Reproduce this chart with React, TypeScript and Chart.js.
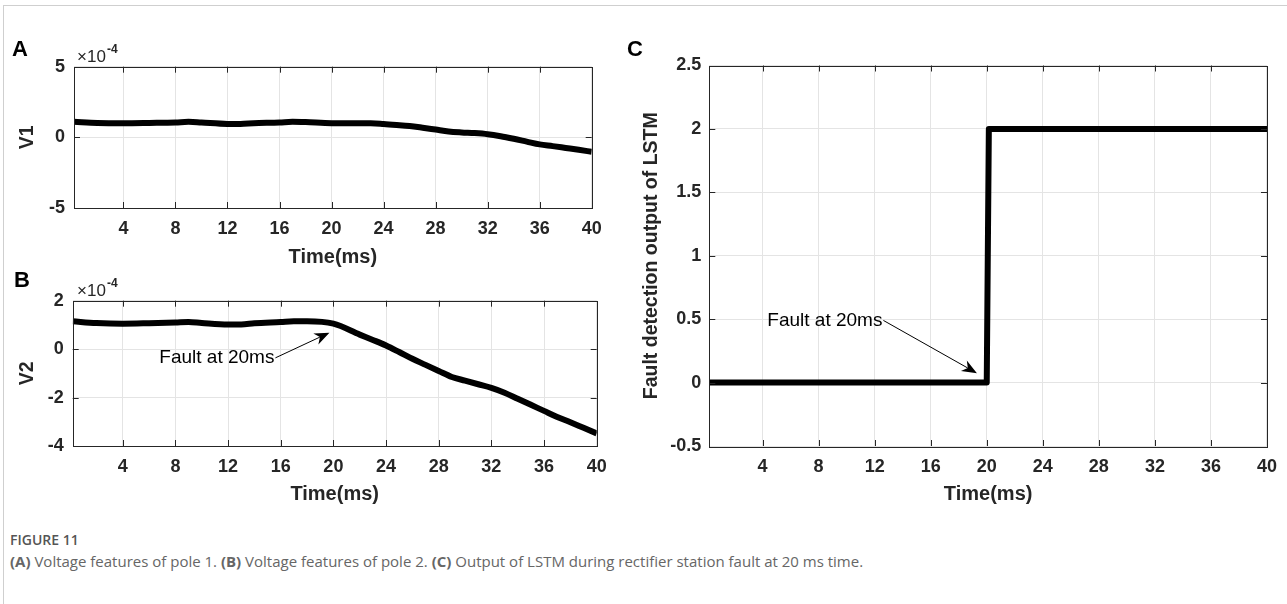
import React, { useEffect, useRef } from 'react';
import { Chart, registerables } from 'chart.js';

Chart.register(...registerables);

// ---------- data ----------
const timeMs = [0.2, 2, 4, 6, 8, 9, 10, 12, 13, 14, 16, 17, 18, 20, 22, 23, 24, 25, 26, 27, 28, 29, 30, 31, 32, 33, 34, 35, 36, 37, 38, 39, 40];
// V1 and V2 in units of 1e-4
const v1 = [1.1, 1.02, 1.0, 1.02, 1.05, 1.1, 1.05, 0.95, 0.95, 1.0, 1.05, 1.1, 1.08, 1.0, 1.0, 1.0, 0.95, 0.88, 0.8, 0.68, 0.55, 0.42, 0.35, 0.3, 0.22, 0.08, -0.1, -0.3, -0.5, -0.62, -0.75, -0.88, -1.02];
const v2 = [1.15, 1.08, 1.05, 1.07, 1.1, 1.12, 1.08, 1.02, 1.02, 1.07, 1.12, 1.15, 1.15, 1.05, 0.6, 0.38, 0.15, -0.12, -0.4, -0.65, -0.9, -1.15, -1.3, -1.45, -1.6, -1.8, -2.05, -2.3, -2.55, -2.8, -3.02, -3.25, -3.48];
const timeC = [0.2, 20, 20.15, 40];
const lstmOutput = [0, 0, 2, 2];

const xTicks = [4, 8, 12, 16, 20, 24, 28, 32, 36, 40];
const v1Ticks = [-5, 0, 5];
const v2Ticks = [-4, -2, 0, 2];
const cTicks = [-0.5, 0, 0.5, 1, 1.5, 2, 2.5];

const faultText = 'Fault at 20ms';
// annotation anchors (data units)
const noteB = { textX: 6.78, textY: -0.36, tipX: 19.7, tipY: 0.68 };
const noteC = { textX: 4.34, textY: 0.49, tipX: 19.3, tipY: 0.074 };

const FONT = '"Liberation Sans", Arial, Helvetica, sans-serif';
const DARK = '#262626';

// ---------- plugins ----------
const boxPlugin = {
  id: 'matlabBox',
  afterDatasetsDraw(chart: any) {
    const { ctx, chartArea: a } = chart;
    const xs = chart.scales.x;
    const ys = chart.scales.y;
    ctx.save();
    ctx.strokeStyle = DARK;
    ctx.lineWidth = 1;
    const tl = 6;
    ctx.beginPath();
    xs.ticks.forEach((t: any) => {
      const px = Math.round(xs.getPixelForValue(t.value)) + 0.5;
      if (px < a.left + 1 || px > a.right - 1) return;
      ctx.moveTo(px, a.bottom);
      ctx.lineTo(px, a.bottom - tl);
      ctx.moveTo(px, a.top);
      ctx.lineTo(px, a.top + tl);
    });
    ys.ticks.forEach((t: any) => {
      const py = Math.round(ys.getPixelForValue(t.value)) + 0.5;
      if (py < a.top + 1 || py > a.bottom - 1) return;
      ctx.moveTo(a.left, py);
      ctx.lineTo(a.left + tl, py);
      ctx.moveTo(a.right, py);
      ctx.lineTo(a.right - tl, py);
    });
    ctx.stroke();
    ctx.strokeRect(Math.round(a.left) + 0.5, Math.round(a.top) + 0.5, Math.round(a.right - a.left), Math.round(a.bottom - a.top));
    ctx.restore();
  },
};

const notePlugin = {
  id: 'faultNote',
  afterDatasetsDraw(chart: any, _args: any, opts: any) {
    if (!opts || opts.textX === undefined) return;
    const { ctx } = chart;
    const xs = chart.scales.x;
    const ys = chart.scales.y;
    const tx = xs.getPixelForValue(opts.textX);
    const ty = ys.getPixelForValue(opts.textY);
    ctx.save();
    ctx.font = `19px ${FONT}`;
    ctx.fillStyle = '#000';
    ctx.textAlign = 'left';
    ctx.textBaseline = 'middle';
    ctx.fillText(opts.text, tx, ty);
    const w = ctx.measureText(opts.text).width;
    const sx = tx + w + 1;
    const sy = ty;
    const ex = xs.getPixelForValue(opts.tipX);
    const ey = ys.getPixelForValue(opts.tipY);
    const ang = Math.atan2(ey - sy, ex - sx);
    const c = Math.cos(ang);
    const s = Math.sin(ang);
    const hl = 15;
    const hw = 6;
    ctx.strokeStyle = '#000';
    ctx.lineWidth = 1;
    ctx.beginPath();
    ctx.moveTo(sx, sy);
    ctx.lineTo(ex - c * hl * 0.7, ey - s * hl * 0.7);
    ctx.stroke();
    ctx.beginPath();
    ctx.moveTo(ex, ey);
    ctx.lineTo(ex - hl * c + hw * s, ey - hl * s - hw * c);
    ctx.lineTo(ex - 0.7 * hl * c, ey - 0.7 * hl * s);
    ctx.lineTo(ex - hl * c - hw * s, ey - hl * s + hw * c);
    ctx.closePath();
    ctx.fillStyle = '#000';
    ctx.fill();
    ctx.restore();
  },
};

type PanelSpec = {
  xs: number[];
  ys: number[];
  yTicks: number[];
  yMin: number;
  yMax: number;
  yTitle: string;
  width: number;
  height: number;
  padTop: number;
  padRight: number;
  yWidth: number;
  xHeight: number;
  xTitlePad: number;
  yTitlePad: number;
  yTickPad: number;
  smooth: boolean;
  note?: any;
};

function makeConfig(p: PanelSpec): any {
  return {
    type: 'line',
    data: {
      datasets: [
        {
          data: p.xs.map((x, i) => ({ x, y: p.ys[i] })),
          borderColor: '#000',
          backgroundColor: '#000',
          borderWidth: 6,
          pointRadius: 0,
          fill: false,
          clip: 0,
          borderJoinStyle: 'round',
          cubicInterpolationMode: p.smooth ? 'monotone' : 'default',
          tension: 0,
        },
      ],
    },
    options: {
      animation: false,
      responsive: false,
      maintainAspectRatio: false,
      events: [],
      layout: { padding: { top: p.padTop, right: p.padRight, left: 0, bottom: 0 } },
      plugins: {
        legend: { display: false },
        tooltip: { enabled: false },
        faultNote: p.note ? { ...p.note, text: faultText } : {},
      },
      scales: {
        x: {
          type: 'linear',
          min: 0.2,
          max: 40,
          afterBuildTicks: (s: any) => {
            s.ticks = xTicks.map((v) => ({ value: v }));
          },
          afterFit: (s: any) => {
            s.height = p.xHeight;
          },
          grid: { color: '#e4e4e4', drawTicks: false, lineWidth: 1 },
          border: { display: false },
          ticks: {
            color: DARK,
            font: { family: FONT, size: 18, weight: 'bold' },
            padding: 10,
            maxRotation: 0,
            autoSkip: false,
            callback: (v: any) => String(v),
          },
          title: {
            display: true,
            text: 'Time(ms)',
            color: DARK,
            font: { family: FONT, size: 20, weight: 'bold', lineHeight: 1.2 },
            padding: { top: 0, bottom: p.xTitlePad },
          },
        },
        y: {
          type: 'linear',
          min: p.yMin,
          max: p.yMax,
          afterBuildTicks: (s: any) => {
            s.ticks = p.yTicks.map((v) => ({ value: v }));
          },
          afterFit: (s: any) => {
            s.width = p.yWidth;
          },
          grid: { color: '#e4e4e4', drawTicks: false, lineWidth: 1 },
          border: { display: false },
          ticks: {
            color: DARK,
            font: { family: FONT, size: 18, weight: 'bold' },
            padding: p.yTickPad,
            autoSkip: false,
            callback: (v: any) => String(v),
          },
          title: {
            display: true,
            text: p.yTitle,
            color: DARK,
            font: { family: FONT, size: 19.5, weight: 'bold', lineHeight: 1.2 },
            padding: { top: p.yTitlePad, bottom: 0 },
          },
        },
      },
    },
    plugins: [boxPlugin, notePlugin],
  };
}

function Panel({ spec, left, top }: { spec: PanelSpec; left: number; top: number }) {
  const ref = useRef<HTMLCanvasElement | null>(null);
  useEffect(() => {
    if (!ref.current) return;
    const chart = new Chart(ref.current, makeConfig(spec));
    return () => chart.destroy();
  }, [spec]);
  return (
    <canvas
      ref={ref}
      width={spec.width}
      height={spec.height}
      style={{ position: 'absolute', left, top, width: spec.width, height: spec.height }}
    />
  );
}

const specA: PanelSpec = {
  xs: timeMs, ys: v1, yTicks: v1Ticks, yMin: -5, yMax: 5, yTitle: 'V1',
  width: 620, height: 275, padTop: 66.7, padRight: 28.3, yWidth: 74, xHeight: 67,
  xTitlePad: 6, yTitlePad: 16, yTickPad: 9, smooth: true,
};
const specB: PanelSpec = {
  xs: timeMs, ys: v2, yTicks: v2Ticks, yMin: -4, yMax: 2, yTitle: 'V2',
  width: 620, height: 240, padTop: 30.7, padRight: 23.3, yWidth: 72.7, xHeight: 64,
  xTitlePad: 4, yTitlePad: 16.4, yTickPad: 9, smooth: true, note: noteB,
};
const specC: PanelSpec = {
  xs: timeC, ys: lstmOutput, yTicks: cTicks, yMin: -0.5, yMax: 2.5, yTitle: 'Fault detection output of LSTM',
  width: 667, height: 520, padTop: 65.5, padRight: 15.3, yWidth: 89.3, xHeight: 74,
  xTitlePad: 14, yTitlePad: 20.3, yTickPad: 8, smooth: false, note: noteC,
};

function Txt({ x, baseline, size, weight, children, color }: any) {
  return (
    <div
      style={{
        position: 'absolute',
        left: x,
        top: baseline - 0.8465 * size,
        fontFamily: FONT,
        fontSize: size,
        fontWeight: weight || 'normal',
        lineHeight: 1,
        color: color || '#000',
        whiteSpace: 'nowrap',
      }}
    >
      {children}
    </div>
  );
}

export default function App() {
  return (
    <div
      style={{
        position: 'absolute',
        left: 0,
        top: 0,
        width: 1287,
        height: 604,
        background: '#fff',
        overflow: 'hidden',
      }}
    >
      <div
        style={{
          position: 'absolute',
          left: 3,
          top: 5,
          width: 1300,
          height: 620,
          borderTop: '1px solid #cfcfcf',
          borderLeft: '1px solid #cfcfcf',
        }}
      />
      <Panel spec={specA} left={0} top={0} />
      <Panel spec={specB} left={0} top={270} />
      <Panel spec={specC} left={620} top={0} />

      <Txt x={12} baseline={57} size={22} weight="bold">A</Txt>
      <Txt x={14} baseline={288} size={22} weight="bold">B</Txt>
      <Txt x={627} baseline={57} size={22} weight="bold">C</Txt>

      <Txt x={77} baseline={62} size={17} color={DARK}>×10</Txt>
      <Txt x={107} baseline={53} size={12} weight="bold" color={DARK}>-4</Txt>
      <Txt x={77} baseline={296} size={17} color={DARK}>×10</Txt>
      <Txt x={107} baseline={287} size={12} weight="bold" color={DARK}>-4</Txt>

      <div
        style={{
          position: 'absolute',
          left: 10,
          top: 530,
          fontFamily: '"Open Sans", "Noto Sans", sans-serif',
          fontSize: 14,
          fontWeight: 600,
          color: '#555',
          whiteSpace: 'nowrap',
        }}
      >
        FIGURE 11
      </div>
      <div
        style={{
          position: 'absolute',
          left: 10,
          top: 551,
          fontFamily: '"Open Sans", "Noto Sans", sans-serif',
          fontSize: 15,
          color: '#666',
          whiteSpace: 'nowrap',
        }}
      >
        <b>(A)</b> Voltage features of pole 1. <b>(B)</b> Voltage features of pole 2. <b>(C)</b> Output of LSTM during rectifier station fault at 20 ms time.
      </div>
    </div>
  );
}
